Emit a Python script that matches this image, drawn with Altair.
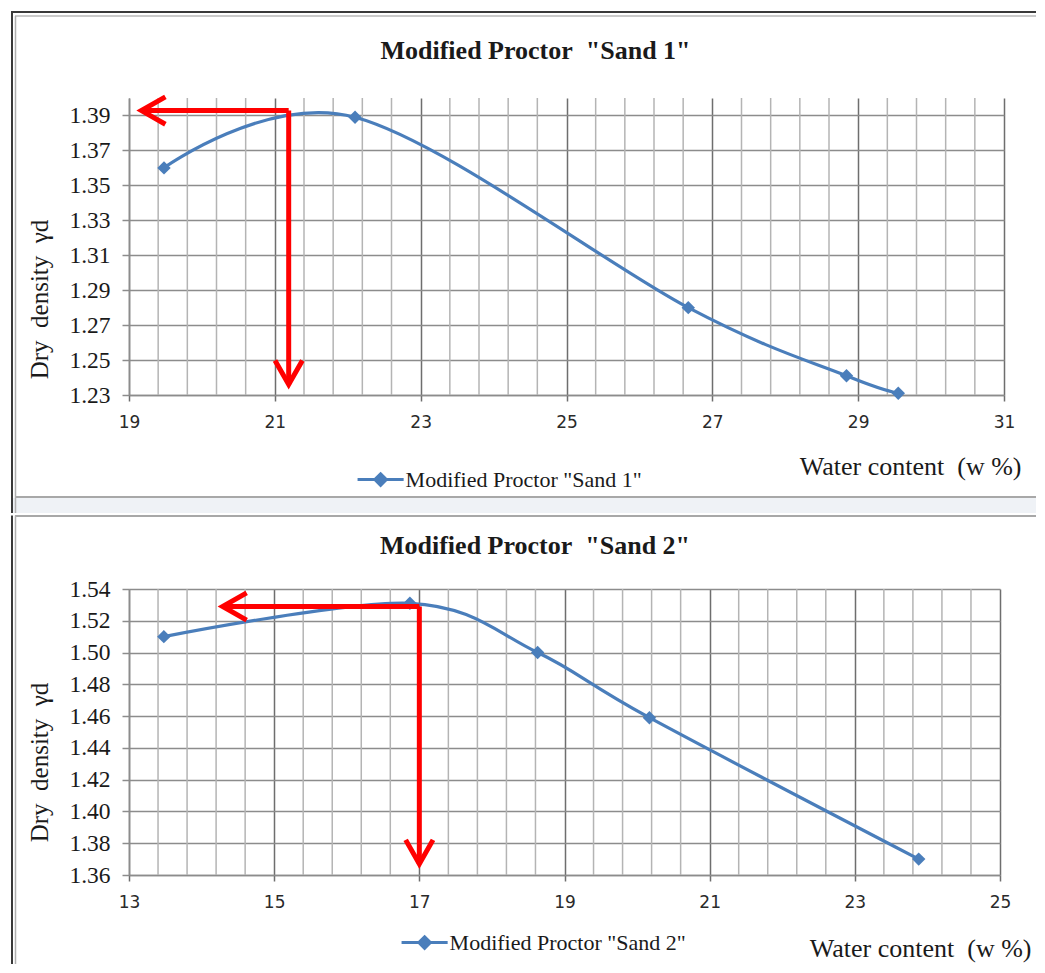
import altair as alt
import pandas as pd

# ---------------- data ----------------
sand1_name = 'Modified Proctor "Sand 1"'
sand1_w = [19.48, 22.10, 26.67, 28.84, 29.55]
sand1_gd = [1.360, 1.389, 1.280, 1.241, 1.231]

sand2_name = 'Modified Proctor "Sand 2"'
sand2_w = [13.48, 16.87, 18.63, 20.17, 23.88]
sand2_gd = [1.510, 1.531, 1.500, 1.459, 1.370]

x1_ticks = [19, 21, 23, 25, 27, 29, 31]
y1_ticks = [1.23, 1.25, 1.27, 1.29, 1.31, 1.33, 1.35, 1.37, 1.39]
y1_domain = [1.23, 1.40]

x2_ticks = [13, 15, 17, 19, 21, 23, 25]
y2_ticks = [1.36, 1.38, 1.40, 1.42, 1.44, 1.46, 1.48, 1.50, 1.52, 1.54]
y2_domain = [1.36, 1.54]

# red reading arrows (optimum water content / max dry density)
arrow1 = {"w": 21.19, "gd": 1.3928, "w_tip": 19.17, "gd_tip": 1.236}
arrow2 = {"w": 17.0, "gd": 1.529, "w_tip": 14.29, "gd_tip": 1.367}

NB = "\u00a0"
title1 = 'Modified Proctor' + NB + NB + '"Sand 1"'
title2 = 'Modified Proctor' + NB + NB + '"Sand 2"'
x_title = "Water content" + NB + NB + "(w %)"
y_title = "Dry" + NB + NB + "density" + NB + NB + "γd"

BLUE = "#4a7ebb"
RED = "#ff0000"
SERIF = "Liberation Serif"

LEG_PATH = "M-1.6,0L1.6,0M0,-0.4L0.4,0L0,0.4L-0.4,0Z"
LEFT_HEAD = "M1,-0.57L0,0L1,0.57"
DOWN_HEAD = "M-0.57,-1L0,0L0.57,-1"


def minor_ticks(ticks):
    lo, hi = ticks[0], ticks[-1]
    n = int(round((hi - lo) / 0.4))
    return [round(lo + 0.4 * i, 2) for i in range(1, n) if i % 5]


def deco(one, hlines, vlines, rects):
    layers = []
    for x0, x1, y0, y1, fill in rects:
        layers.append(alt.Chart(one).mark_rect(color=fill).encode(
            x=alt.value(x0), x2=alt.value(x1), y=alt.value(y0), y2=alt.value(y1)))
    for x0, x1, y, color, sw in hlines:
        layers.append(alt.Chart(one).mark_rule(color=color, strokeWidth=sw).encode(
            x=alt.value(x0), x2=alt.value(x1), y=alt.value(y)))
    for x, y0, y1, color, sw in vlines:
        layers.append(alt.Chart(one).mark_rule(color=color, strokeWidth=sw).encode(
            x=alt.value(x), y=alt.value(y0), y2=alt.value(y1)))
    return layers


def panel(w, gd, name, xt, yt, ydom, arrow, width, height,
          legend_xy, title_text, title_dx, title_offset, ytitle_xy, xtitle_xy,
          hlines, vlines, rects):
    one = pd.DataFrame({"k": [0]})
    df = pd.DataFrame({"w": w, "gd": gd, "series": [name] * len(w)})
    xs = alt.Scale(domain=[xt[0], xt[-1]], nice=False, zero=False)
    ys = alt.Scale(domain=ydom, nice=False, zero=False)
    xaxis = alt.Axis(values=xt, format="d", grid=True, gridColor="#6e6e6e", gridWidth=1.5,
                     tickColor="#6e6e6e", tickWidth=1.5, tickSize=6,
                     domainColor="#8c8c8c", domainWidth=1.5,
                     labelFont="DejaVu Sans", labelFontSize=17, labelColor="#2a2a2a",
                     labelPadding=13, labelFlush=False, labelOverlap=False,
                     title=x_title, titleFont=SERIF, titleFontSize=26, titleFontWeight="normal",
                     titleColor="#1a1a1a", titleX=xtitle_xy[0], titleY=xtitle_xy[1],
                     titleAlign="right", titleBaseline="middle")
    yaxis = alt.Axis(values=yt, format=".2f", grid=True, gridColor="#8c8c8c", gridWidth=1.5,
                     tickColor="#8c8c8c", tickWidth=1.5, tickSize=7,
                     domainColor="#8c8c8c", domainWidth=1.5,
                     labelFont=SERIF, labelFontSize=23.5, labelColor="#1a1a1a",
                     labelPadding=12, labelOverlap=False,
                     title=y_title, titleFont=SERIF, titleFontSize=25, titleFontWeight="normal",
                     titleColor="#1a1a1a", titleAngle=270, titleX=ytitle_xy[0], titleY=ytitle_xy[1],
                     titleAlign="center", titleBaseline="middle")
    X = lambda f: alt.X(f, scale=xs, axis=xaxis)
    Y = lambda f: alt.Y(f, scale=ys, axis=yaxis)

    layers = deco(one, hlines, vlines, rects)

    minor_df = pd.DataFrame({"w": minor_ticks(xt)})
    layers.append(alt.Chart(minor_df).mark_rule(color="#b4b4b4", strokeWidth=1.5).encode(x=X("w:Q")))

    layers.append(alt.Chart(df).mark_line(interpolate="cardinal", strokeWidth=3.2).encode(
        x=X("w:Q"), y=Y("gd:Q"),
        color=alt.Color("series:N", scale=alt.Scale(range=[BLUE]),
                        legend=alt.Legend(orient="none", legendX=legend_xy[0], legendY=legend_xy[1],
                                          title=None, symbolType=LEG_PATH, symbolSize=830,
                                          symbolStrokeWidth=3, symbolFillColor=BLUE,
                                          symbolStrokeColor=BLUE, labelFont=SERIF,
                                          labelFontSize=22, labelColor="#1a1a1a",
                                          labelOffset=9, labelLimit=400, padding=0))))
    layers.append(alt.Chart(df).mark_point(shape="diamond", filled=True, size=180, color=BLUE,
                                           opacity=1).encode(x=X("w:Q"), y=Y("gd:Q")))

    adf = pd.DataFrame({"w": [arrow["w"]], "gd": [arrow["gd"]],
                        "w_tip": [arrow["w_tip"]], "gd_tip": [arrow["gd_tip"]]})
    layers.append(alt.Chart(adf).mark_rule(color=RED, strokeWidth=5).encode(
        x=X("w_tip:Q"), x2="w:Q", y=Y("gd:Q")))
    layers.append(alt.Chart(adf).mark_rule(color=RED, strokeWidth=5).encode(
        x=X("w:Q"), y=Y("gd:Q"), y2="gd_tip:Q"))
    layers.append(alt.Chart(adf).mark_point(shape=LEFT_HEAD, filled=False, size=2304, color=RED,
                                            strokeWidth=5, opacity=1).encode(
        x=X("w_tip:Q"), y=Y("gd:Q")))
    layers.append(alt.Chart(adf).mark_point(shape=DOWN_HEAD, filled=False, size=2304, color=RED,
                                            strokeWidth=5, opacity=1).encode(
        x=X("w:Q"), y=Y("gd_tip:Q")))

    return alt.layer(*layers).properties(
        width=width, height=height,
        title=alt.TitleParams(title_text, font=SERIF, fontSize=26, fontWeight="bold",
                              color="#1a1a1a", anchor="middle", dx=title_dx,
                              offset=title_offset, baseline="alphabetic"))


# page-coordinate helpers for the frames
o1 = (128, 97)
o2 = (128, 588)
R = 1035


def hl(o, x0, x1, y, c, sw):
    return (x0 - o[0], x1 - o[0], y - o[1], c, sw)


def vl(o, x, y0, y1, c, sw):
    return (x - o[0], y0 - o[1], y1 - o[1], c, sw)


def rc(o, x0, x1, y0, y1, fill):
    return (x0 - o[0], x1 - o[0], y0 - o[1], y1 - o[1], fill)


top = panel(sand1_w, sand1_gd, sand1_name, x1_ticks, y1_ticks, y1_domain, arrow1,
            875, 297, (235.6, 365.6), title1, -31, -75, (-90, 201), (892, 71),
            hlines=[hl(o1, 10, R, 11, "#3a3a3a", 2), hl(o1, 14, R, 15, "#b8b8b8", 1.5),
                    hl(o1, 14, R, 496, "#a8a8a8", 2)],
            vlines=[vl(o1, 11, 10, 512, "#3a3a3a", 2), vl(o1, 14.5, 15, 512, "#b0b0b0", 1.5)],
            rects=[rc(o1, 10, R, 497, 512, "#eff2f6")])

bottom = panel(sand2_w, sand2_gd, sand2_name, x2_ticks, y2_ticks, y2_domain, arrow2,
               871, 286, (279.6, 337.6), title2, -29.5, -65, (-90, 173), (902, 73),
               hlines=[hl(o2, 14, R, 515, "#a8a8a8", 2)],
               vlines=[vl(o2, 11, 514.5, 963, "#3a3a3a", 2), vl(o2, 14.5, 514.5, 963, "#b0b0b0", 1.5)],
               rects=[])

chart = alt.vconcat(top, bottom, spacing=0).resolve_scale(
    x="independent", y="independent", color="independent"
).resolve_legend(color="independent").properties(
    padding={"left": 2, "top": 2, "right": 0, "bottom": 0}
).configure_view(stroke=None)

chart.save("out.html", embed_options={"renderer": "svg", "actions": False})
